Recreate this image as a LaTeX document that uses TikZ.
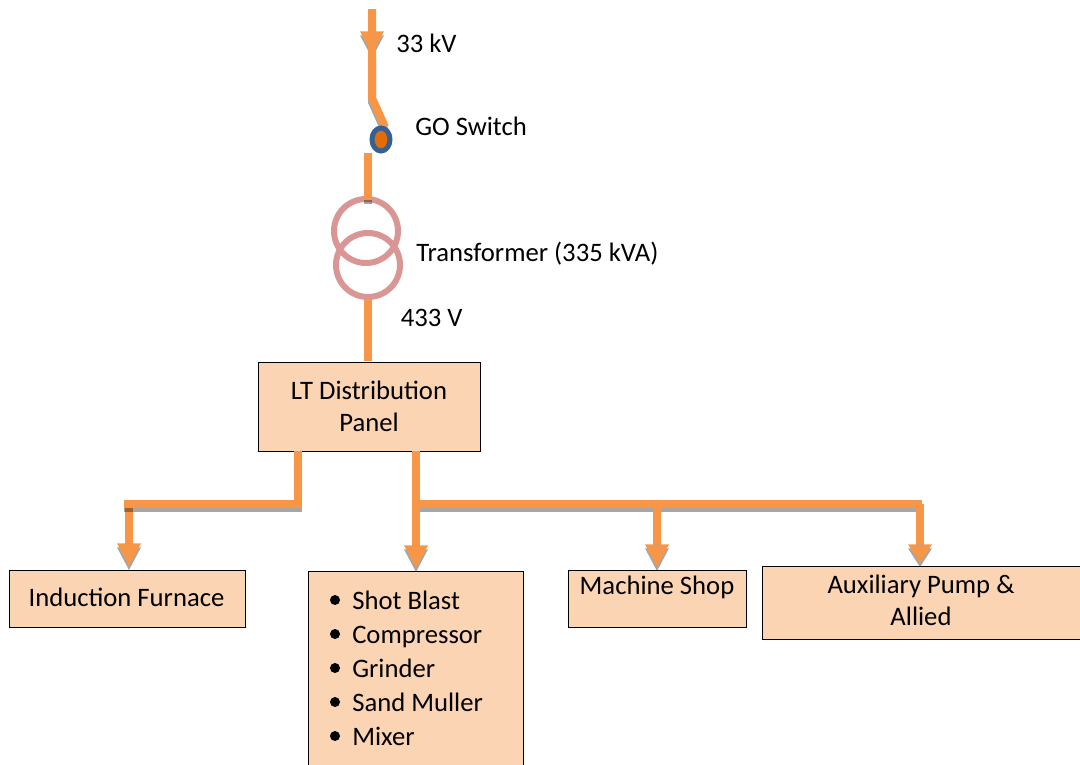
\documentclass[tikz,border=0pt]{standalone}
\usepackage{fontspec}
\setmainfont{Carlito}
\usepackage{tikz}
\usetikzlibrary{arrows.meta}
\usetikzlibrary{calc}
\definecolor{line}{HTML}{F79646}
\definecolor{box}{HTML}{FBD4B4}
\definecolor{coil}{HTML}{D99694}
\definecolor{ring}{HTML}{376092}
\definecolor{core}{HTML}{E36C09}
\tikzstyle{l} = [rectangle, draw=black, line width=0.75pt, fill=box, inner sep=0pt, align=center, font=\fontsize{20}{24}\selectfont]
\tikzstyle{t} = [inner sep=0pt, anchor=base west, font=\fontsize{20}{24}\selectfont]
\tikzstyle{m} = [inner sep=0pt, align=center, font=\fontsize{20}{24}\selectfont]
\tikzstyle{w} = [line width=6pt, draw=line]
\tikzstyle{s} = [w, draw=black, opacity=0.35, transform canvas={yshift=-3pt}]
\tikzstyle{h} = [-{Triangle[width=18pt,length=17pt,line width=0pt]}]
\tikzstyle{k} = [-{Triangle[width=18pt,length=14pt,line width=0pt]}]
\begin{document}
\begin{tikzpicture}[x=0.75pt,y=-0.75pt]
	\useasboundingbox (0,0) rectangle (1080,764);
		\node[l, minimum width=222*0.75pt, minimum height=89*0.75pt] (panel) at (369,406.5) {};
		\node[m] (paneltext) at (369,406) {LT Distribution\\Panel};
		\node[l, minimum width=236*0.75pt, minimum height=57*0.75pt] (furnace) at (127,598.5) {};
		\node[m] (furnacetext) at (126.5,597.5) {Induction Furnace};
		\node[l, minimum width=215*0.75pt, minimum height=204*0.75pt] (blast) at (415.5,673.5) {};
		\node[l, minimum width=178*0.75pt, minimum height=57*0.75pt] (shop) at (657,598.5) {};
		\node[m] (shoptext) at (657,587) {Machine Shop};
		\node[l, minimum width=318*0.75pt, minimum height=73*0.75pt] (pump) at (921.5,602.5) {};
		\node[m] (pumptext) at (921,600.5) {Auxiliary Pump \&\\Allied};
		\foreach \name/\y/\item in {b1/600/Shot Blast,b2/634/Compressor,b3/668/Grinder,b4/702/Sand Muller,b5/736/Mixer}{
			\node[t] (\name) at (352,\y+9) {\item};
			\fill (335,\y) circle[radius=5];
		}
		\node[t] (n1) at (396,52) {33 kV};
		\node[t] (n2) at (415,135) {GO Switch};
		\node[t] (n3) at (416,261) {Transformer (335 kVA)};
		\node[t] (n4) at (400.5,326) {433 V};
		\coordinate (a1) at (372,9);
		\coordinate (a2) at (372,98);
		\coordinate (a3) at (385,127);
		\coordinate (a8) at (372,54);
		\coordinate (a4) at (368,153);
		\coordinate (a5) at (368,200);
		\coordinate (a6) at (368,299);
		\coordinate (a7) at (368,361);
		\coordinate (c1) at (298,451);
		\coordinate (c2) at (298,504);
		\coordinate (c3) at (124,504);
		\coordinate (c4) at (129,508);
		\coordinate (c5) at (129,566);
		\coordinate (d1) at (416,451);
		\coordinate (d2) at (416,568);
		\coordinate (d3) at (416,504);
		\coordinate (d4) at (922,504);
		\coordinate (d5) at (657,504);
		\coordinate (d6) at (657,567);
		\coordinate (d7) at (920,504);
		\coordinate (d8) at (920,563);
		\draw[coil, line width=4.5pt] (366,231) circle[radius=32];
		\draw[coil, line width=4.5pt] (368,265) circle[radius=32];
		\draw[s, h] ($(a1)$) -- ($(a8)$);
		\draw[w, h] ($(a1)$) -- ($(a8)$);
		\draw[s] ($(a8)$) -- ($(a2)$) -- ($(a3)$);
		\draw[w] ($(a1)$) -- ($(a2)$) -- ($(a3)$);
		\draw[draw=ring, fill=core, line width=3.75pt] (381,139.5) ellipse[x radius=9, y radius=11.5];
		\draw[s] ($(a4)$) -- ($(a5)$);
		\foreach \from/\to in {a4/a5,a6/a7}
		\draw[w] ($(\from)$) -- ($(\to)$);
		\draw[s, h] ($(c4)$) -- ($(c5)$);
		\draw[w, h] ($(c4)$) -- ($(c5)$);
		\draw[s] ($(c1)$) -- ($(c2)$) -- ($(c3)$);
		\draw[w] ($(c1)$) -- ($(c2)$) -- ($(c3)$);
		\draw[s] ($(d3)$) -- ($(d4)$);
		\draw[w] ($(d3)$) -- ($(d4)$);
		\foreach \from/\to in {d1/d2,d5/d6}{
			\draw[s, h] ($(\from)$) -- ($(\to)$);
			\draw[w, h] ($(\from)$) -- ($(\to)$);
		}
		\draw[s, k] ($(d7)$) -- ($(d8)$);
		\draw[w, k] ($(d7)$) -- ($(d8)$);
	\end{tikzpicture}
\end{document}
